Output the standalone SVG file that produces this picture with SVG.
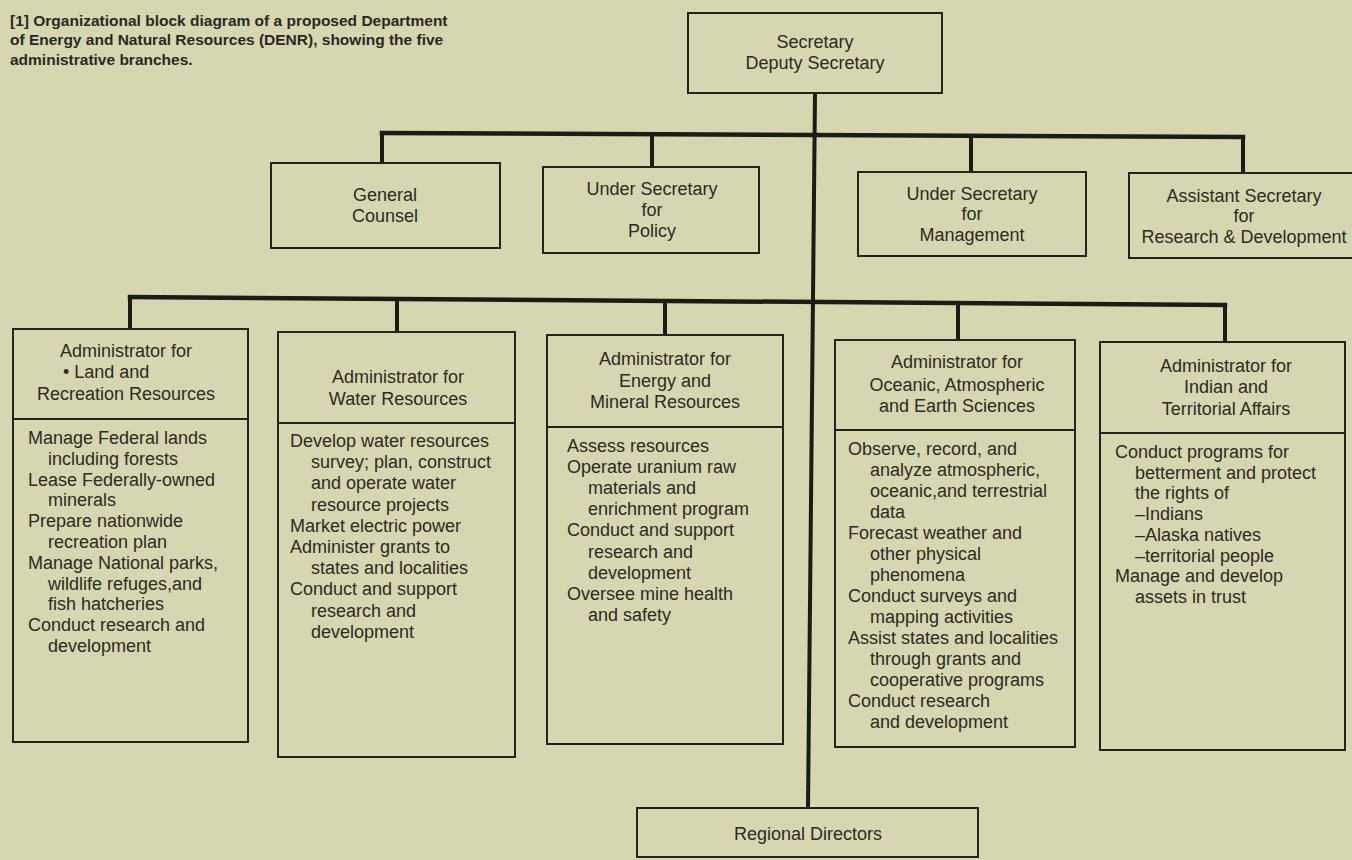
<svg xmlns="http://www.w3.org/2000/svg" width="1352" height="860" viewBox="0 0 1352 860">
<style>
.bg{fill:#d6d7b1}
.box{fill:none;stroke:#23221c;stroke-width:2}
.div{stroke:#23221c;stroke-width:2}
.bus{fill:none;stroke:#1c1b16;stroke-width:4.5;stroke-linecap:square}
.drop{fill:none;stroke:#1c1b16;stroke-width:4}
.t{font-family:"Liberation Sans",Arial,sans-serif;font-size:18px;fill:#2c2a23}
.c{text-anchor:middle}
.title{font-family:"Liberation Sans",Arial,sans-serif;font-size:15.5px;font-weight:bold;fill:#2a2822}
</style>
<rect class="bg" x="0" y="0" width="1352" height="860"/>

<g id="title">
<text class="title" x="10" y="25.5">[1] Organizational block diagram of a proposed Department</text>
<text class="title" x="10" y="45">of Energy and Natural Resources (DENR), showing the five</text>
<text class="title" x="10" y="64.5">administrative branches.</text>
</g>

<g id="connectors">
<path class="drop" d="M815,93 L808,808"/>
<path class="bus" d="M382,133 L1243,137"/>
<path class="drop" d="M382,133 V163"/>
<path class="drop" d="M652,134 V167"/>
<path class="drop" d="M971,136 V172"/>
<path class="drop" d="M1243,137 V173"/>
<path class="bus" d="M130,297 L1225,305"/>
<path class="drop" d="M130,297 V329"/>
<path class="drop" d="M397,299 V332"/>
<path class="drop" d="M665,301 V335"/>
<path class="drop" d="M958,303 V340"/>
<path class="drop" d="M1225,305 V342"/>
</g>

<g id="secretary">
<rect class="box" x="688" y="13" width="254" height="80"/>
<text class="t c" x="815" y="48">Secretary</text>
<text class="t c" x="815" y="69">Deputy Secretary</text>
</g>

<g id="general-counsel">
<rect class="box" x="271" y="163" width="229" height="85"/>
<text class="t c" x="385" y="201">General</text>
<text class="t c" x="385" y="222">Counsel</text>
</g>

<g id="under-secretary-policy">
<rect class="box" x="543" y="167" width="216" height="86"/>
<text class="t c" x="652" y="195">Under Secretary</text>
<text class="t c" x="652" y="216">for</text>
<text class="t c" x="652" y="237">Policy</text>
</g>

<g id="under-secretary-management">
<rect class="box" x="858" y="172" width="228" height="84"/>
<text class="t c" x="972" y="200">Under Secretary</text>
<text class="t c" x="972" y="220">for</text>
<text class="t c" x="972" y="241">Management</text>
</g>

<g id="assistant-secretary">
<rect class="box" x="1129" y="173" width="240" height="85"/>
<text class="t c" x="1244" y="202">Assistant Secretary</text>
<text class="t c" x="1244" y="222">for</text>
<text class="t c" x="1244" y="243">Research &amp; Development</text>
</g>

<g id="land">
<rect class="box" x="13" y="329" width="235" height="413"/>
<line class="div" x1="13" y1="419" x2="248" y2="419"/>
<text class="t c" x="126" y="357">Administrator for</text>
<text class="t" x="63" y="378">• Land and</text>
<text class="t c" x="126" y="400">Recreation Resources</text>
<text class="t" x="28" y="444">Manage Federal lands<tspan x="48" dy="20.8">including forests</tspan><tspan x="28" dy="20.8">Lease Federally-owned</tspan><tspan x="48" dy="20.8">minerals</tspan><tspan x="28" dy="20.8">Prepare nationwide</tspan><tspan x="48" dy="20.8">recreation plan</tspan><tspan x="28" dy="20.8">Manage National parks,</tspan><tspan x="48" dy="20.8">wildlife refuges,and</tspan><tspan x="48" dy="20.8">fish hatcheries</tspan><tspan x="28" dy="20.8">Conduct research and</tspan><tspan x="48" dy="20.8">development</tspan></text>
</g>

<g id="water">
<rect class="box" x="278" y="332" width="237" height="425"/>
<line class="div" x1="278" y1="423" x2="515" y2="423"/>
<text class="t c" x="398" y="383">Administrator for</text>
<text class="t c" x="398" y="405">Water Resources</text>
<text class="t" x="290" y="447">Develop water resources<tspan x="311" dy="21.2">survey; plan, construct</tspan><tspan x="311" dy="21.2">and operate water</tspan><tspan x="311" dy="21.2">resource projects</tspan><tspan x="290" dy="21.2">Market electric power</tspan><tspan x="290" dy="21.2">Administer grants to</tspan><tspan x="311" dy="21.2">states and localities</tspan><tspan x="290" dy="21.2">Conduct and support</tspan><tspan x="311" dy="21.2">research and</tspan><tspan x="311" dy="21.2">development</tspan></text>
</g>

<g id="energy">
<rect class="box" x="547" y="335" width="236" height="409"/>
<line class="div" x1="547" y1="427" x2="783" y2="427"/>
<text class="t c" x="665" y="365">Administrator for</text>
<text class="t c" x="665" y="387">Energy and</text>
<text class="t c" x="665" y="408">Mineral Resources</text>
<text class="t" x="567" y="452">Assess resources<tspan x="567" dy="21.1">Operate uranium raw</tspan><tspan x="588" dy="21.1">materials and</tspan><tspan x="588" dy="21.1">enrichment program</tspan><tspan x="567" dy="21.1">Conduct and support</tspan><tspan x="588" dy="21.1">research and</tspan><tspan x="588" dy="21.1">development</tspan><tspan x="567" dy="21.1">Oversee mine health</tspan><tspan x="588" dy="21.1">and safety</tspan></text>
</g>

<g id="oceanic">
<rect class="box" x="835" y="340" width="240" height="407"/>
<line class="div" x1="835" y1="430" x2="1075" y2="430"/>
<text class="t c" x="957" y="368">Administrator for</text>
<text class="t c" x="957" y="391">Oceanic, Atmospheric</text>
<text class="t c" x="957" y="412">and Earth Sciences</text>
<text class="t" x="848" y="455">Observe, record, and<tspan x="870" dy="21">analyze atmospheric,</tspan><tspan x="870" dy="21">oceanic,and terrestrial</tspan><tspan x="870" dy="21">data</tspan><tspan x="848" dy="21">Forecast weather and</tspan><tspan x="870" dy="21">other physical</tspan><tspan x="870" dy="21">phenomena</tspan><tspan x="848" dy="21">Conduct surveys and</tspan><tspan x="870" dy="21">mapping activities</tspan><tspan x="848" dy="21">Assist states and localities</tspan><tspan x="870" dy="21">through grants and</tspan><tspan x="870" dy="21">cooperative programs</tspan><tspan x="848" dy="21">Conduct research</tspan><tspan x="870" dy="21">and development</tspan></text>
</g>

<g id="indian">
<rect class="box" x="1100" y="342" width="245" height="408"/>
<line class="div" x1="1100" y1="433" x2="1345" y2="433"/>
<text class="t c" x="1226" y="372">Administrator for</text>
<text class="t c" x="1226" y="393">Indian and</text>
<text class="t c" x="1226" y="415">Territorial Affairs</text>
<text class="t" x="1115" y="458">Conduct programs for<tspan x="1135" dy="20.7">betterment and protect</tspan><tspan x="1135" dy="20.7">the rights of</tspan><tspan x="1135" dy="20.7">–Indians</tspan><tspan x="1135" dy="20.7">–Alaska natives</tspan><tspan x="1135" dy="20.7">–territorial people</tspan><tspan x="1115" dy="20.7">Manage and develop</tspan><tspan x="1135" dy="20.7">assets in trust</tspan></text>
</g>

<g id="regional-directors">
<rect class="box" x="637" y="808" width="341" height="49"/>
<text class="t c" x="808" y="840">Regional Directors</text>
</g>
</svg>
